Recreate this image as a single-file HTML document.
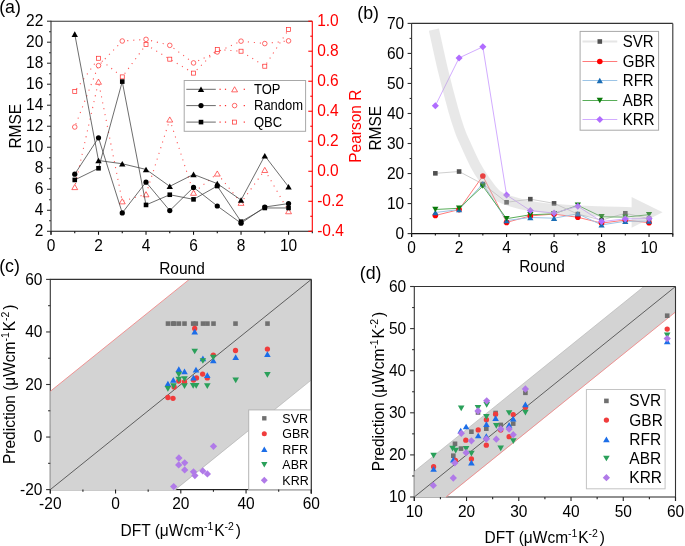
<!DOCTYPE html>
<html><head><meta charset="utf-8"><title>Figure</title>
<style>
html,body{margin:0;padding:0;background:#fff;}
body{width:685px;height:546px;overflow:hidden;}
svg{display:block;will-change:transform;font-family:"Liberation Sans", sans-serif;}
</style></head>
<body>
<svg width="685" height="546" viewBox="0 0 685 546">
<rect width="685" height="546" fill="#fff"/>
<g id="pa">
<polyline points="74.75,187.03 98.51,81.68 122.26,201.29 146.02,194.23 169.77,119.5 193.53,192.73 217.28,173.52 241.04,202.79 264.79,169.92 288.55,211.19" fill="none" stroke="#ff2a2a" stroke-width="1.1" stroke-dasharray="1.1 4.9" stroke-dashoffset="-3" stroke-opacity="0.8"/>
<polyline points="74.75,127 98.51,65.62 122.26,41.01 146.02,39.36 169.77,45.36 193.53,62.92 217.28,51.96 241.04,41.16 264.79,43.56 288.55,40.86" fill="none" stroke="#ff2a2a" stroke-width="1.1" stroke-dasharray="1.1 4.9" stroke-dashoffset="-3" stroke-opacity="0.8"/>
<polyline points="74.75,91.43 98.51,58.27 122.26,76.88 146.02,44.61 169.77,59.17 193.53,73.12 217.28,49.56 241.04,51.21 264.79,66.22 288.55,29.6" fill="none" stroke="#ff2a2a" stroke-width="1.1" stroke-dasharray="1.1 4.9" stroke-dashoffset="-3" stroke-opacity="0.8"/>
<path d="M74.75,184.46 L77.7,189.6 L71.8,189.6 Z" fill="#fff" stroke="#ff2a2a" stroke-width="0.7"/>
<path d="M98.51,79.11 L101.46,84.25 L95.56,84.25 Z" fill="#fff" stroke="#ff2a2a" stroke-width="0.7"/>
<path d="M122.26,198.72 L125.21,203.85 L119.31,203.85 Z" fill="#fff" stroke="#ff2a2a" stroke-width="0.7"/>
<path d="M146.02,191.67 L148.97,196.8 L143.07,196.8 Z" fill="#fff" stroke="#ff2a2a" stroke-width="0.7"/>
<path d="M169.77,116.93 L172.72,122.06 L166.82,122.06 Z" fill="#fff" stroke="#ff2a2a" stroke-width="0.7"/>
<path d="M193.53,190.17 L196.48,195.3 L190.58,195.3 Z" fill="#fff" stroke="#ff2a2a" stroke-width="0.7"/>
<path d="M217.28,170.96 L220.23,176.09 L214.33,176.09 Z" fill="#fff" stroke="#ff2a2a" stroke-width="0.7"/>
<path d="M241.04,200.22 L243.99,205.35 L238.09,205.35 Z" fill="#fff" stroke="#ff2a2a" stroke-width="0.7"/>
<path d="M264.79,167.35 L267.74,172.49 L261.84,172.49 Z" fill="#fff" stroke="#ff2a2a" stroke-width="0.7"/>
<path d="M288.55,208.62 L291.5,213.76 L285.6,213.76 Z" fill="#fff" stroke="#ff2a2a" stroke-width="0.7"/>
<circle cx="74.75" cy="127" r="2.3" fill="#fff" stroke="#ff2a2a" stroke-width="0.7"/>
<circle cx="98.51" cy="65.62" r="2.3" fill="#fff" stroke="#ff2a2a" stroke-width="0.7"/>
<circle cx="122.26" cy="41.01" r="2.3" fill="#fff" stroke="#ff2a2a" stroke-width="0.7"/>
<circle cx="146.02" cy="39.36" r="2.3" fill="#fff" stroke="#ff2a2a" stroke-width="0.7"/>
<circle cx="169.77" cy="45.36" r="2.3" fill="#fff" stroke="#ff2a2a" stroke-width="0.7"/>
<circle cx="193.53" cy="62.92" r="2.3" fill="#fff" stroke="#ff2a2a" stroke-width="0.7"/>
<circle cx="217.28" cy="51.96" r="2.3" fill="#fff" stroke="#ff2a2a" stroke-width="0.7"/>
<circle cx="241.04" cy="41.16" r="2.3" fill="#fff" stroke="#ff2a2a" stroke-width="0.7"/>
<circle cx="264.79" cy="43.56" r="2.3" fill="#fff" stroke="#ff2a2a" stroke-width="0.7"/>
<circle cx="288.55" cy="40.86" r="2.3" fill="#fff" stroke="#ff2a2a" stroke-width="0.7"/>
<rect x="72.75" y="89.43" width="4" height="4" fill="#fff" stroke="#ff2a2a" stroke-width="0.7"/>
<rect x="96.51" y="56.27" width="4" height="4" fill="#fff" stroke="#ff2a2a" stroke-width="0.7"/>
<rect x="120.26" y="74.88" width="4" height="4" fill="#fff" stroke="#ff2a2a" stroke-width="0.7"/>
<rect x="144.02" y="42.61" width="4" height="4" fill="#fff" stroke="#ff2a2a" stroke-width="0.7"/>
<rect x="167.77" y="57.17" width="4" height="4" fill="#fff" stroke="#ff2a2a" stroke-width="0.7"/>
<rect x="191.53" y="71.12" width="4" height="4" fill="#fff" stroke="#ff2a2a" stroke-width="0.7"/>
<rect x="215.28" y="47.56" width="4" height="4" fill="#fff" stroke="#ff2a2a" stroke-width="0.7"/>
<rect x="239.04" y="49.21" width="4" height="4" fill="#fff" stroke="#ff2a2a" stroke-width="0.7"/>
<rect x="262.79" y="64.22" width="4" height="4" fill="#fff" stroke="#ff2a2a" stroke-width="0.7"/>
<rect x="286.55" y="27.6" width="4" height="4" fill="#fff" stroke="#ff2a2a" stroke-width="0.7"/>
<polyline points="74.75,34.12 98.51,160.5 122.26,163.75 146.02,169.43 169.77,186.34 193.53,174.36 217.28,183.61 241.04,200 264.79,155.77 288.55,186.76" fill="none" stroke="#3c3c3c" stroke-width="0.75" />
<polyline points="74.75,174.15 98.51,137.81 122.26,212.92 146.02,182.14 169.77,210.61 193.53,187.39 217.28,205.98 241.04,223.21 264.79,207.03 288.55,203.57" fill="none" stroke="#3c3c3c" stroke-width="0.75" />
<polyline points="74.75,179.93 98.51,168.27 122.26,81.6 146.02,204.93 169.77,194.74 193.53,199.36 217.28,186.02 241.04,221.64 264.79,207.98 288.55,207.98" fill="none" stroke="#3c3c3c" stroke-width="0.75" />
<path d="M74.75,31.34 L77.95,36.91 L71.55,36.91 Z" fill="#000" stroke="none" stroke-width="0"/>
<path d="M98.51,157.71 L101.71,163.28 L95.31,163.28 Z" fill="#000" stroke="none" stroke-width="0"/>
<path d="M122.26,160.97 L125.46,166.54 L119.06,166.54 Z" fill="#000" stroke="none" stroke-width="0"/>
<path d="M146.02,166.64 L149.22,172.21 L142.82,172.21 Z" fill="#000" stroke="none" stroke-width="0"/>
<path d="M169.77,183.55 L172.97,189.12 L166.57,189.12 Z" fill="#000" stroke="none" stroke-width="0"/>
<path d="M193.53,171.58 L196.73,177.15 L190.33,177.15 Z" fill="#000" stroke="none" stroke-width="0"/>
<path d="M217.28,180.82 L220.48,186.39 L214.08,186.39 Z" fill="#000" stroke="none" stroke-width="0"/>
<path d="M241.04,197.21 L244.24,202.78 L237.84,202.78 Z" fill="#000" stroke="none" stroke-width="0"/>
<path d="M264.79,152.99 L267.99,158.55 L261.59,158.55 Z" fill="#000" stroke="none" stroke-width="0"/>
<path d="M288.55,183.97 L291.75,189.54 L285.35,189.54 Z" fill="#000" stroke="none" stroke-width="0"/>
<circle cx="74.75" cy="174.15" r="2.6" fill="#000" stroke="none" stroke-width="0"/>
<circle cx="98.51" cy="137.81" r="2.6" fill="#000" stroke="none" stroke-width="0"/>
<circle cx="122.26" cy="212.92" r="2.6" fill="#000" stroke="none" stroke-width="0"/>
<circle cx="146.02" cy="182.14" r="2.6" fill="#000" stroke="none" stroke-width="0"/>
<circle cx="169.77" cy="210.61" r="2.6" fill="#000" stroke="none" stroke-width="0"/>
<circle cx="193.53" cy="187.39" r="2.6" fill="#000" stroke="none" stroke-width="0"/>
<circle cx="217.28" cy="205.98" r="2.6" fill="#000" stroke="none" stroke-width="0"/>
<circle cx="241.04" cy="223.21" r="2.6" fill="#000" stroke="none" stroke-width="0"/>
<circle cx="264.79" cy="207.03" r="2.6" fill="#000" stroke="none" stroke-width="0"/>
<circle cx="288.55" cy="203.57" r="2.6" fill="#000" stroke="none" stroke-width="0"/>
<rect x="72.45" y="177.63" width="4.6" height="4.6" fill="#000" stroke="none" stroke-width="0"/>
<rect x="96.21" y="165.97" width="4.6" height="4.6" fill="#000" stroke="none" stroke-width="0"/>
<rect x="119.96" y="79.3" width="4.6" height="4.6" fill="#000" stroke="none" stroke-width="0"/>
<rect x="143.72" y="202.63" width="4.6" height="4.6" fill="#000" stroke="none" stroke-width="0"/>
<rect x="167.47" y="192.44" width="4.6" height="4.6" fill="#000" stroke="none" stroke-width="0"/>
<rect x="191.23" y="197.06" width="4.6" height="4.6" fill="#000" stroke="none" stroke-width="0"/>
<rect x="214.98" y="183.72" width="4.6" height="4.6" fill="#000" stroke="none" stroke-width="0"/>
<rect x="238.74" y="219.34" width="4.6" height="4.6" fill="#000" stroke="none" stroke-width="0"/>
<rect x="262.49" y="205.68" width="4.6" height="4.6" fill="#000" stroke="none" stroke-width="0"/>
<rect x="286.25" y="205.68" width="4.6" height="4.6" fill="#000" stroke="none" stroke-width="0"/>
<rect x="184.2" y="80.5" width="121.4" height="50.8" fill="#fff" stroke="#a8a8a8" stroke-width="1"/>
<line x1="186.3" y1="89.3" x2="215.8" y2="89.3" stroke="#444" stroke-width="0.8" />
<rect x="219.5" y="88.7" width="1.2" height="1.2" fill="#ff2a2a"/>
<rect x="224.9" y="88.7" width="1.2" height="1.2" fill="#ff2a2a"/>
<rect x="243.7" y="88.7" width="1.2" height="1.2" fill="#ff2a2a"/>
<path d="M201,86.52 L204.2,92.08 L197.8,92.08 Z" fill="#000" stroke="none" stroke-width="0"/>
<path d="M234.6,86.73 L237.55,91.87 L231.65,91.87 Z" fill="#fff" stroke="#ff2a2a" stroke-width="0.7"/>
<text transform="translate(254,93.9) scale(1.0,1.08)" font-size="13" text-anchor="start" fill="#000" >TOP</text>
<line x1="186.3" y1="105.6" x2="215.8" y2="105.6" stroke="#444" stroke-width="0.8" />
<rect x="219.5" y="105" width="1.2" height="1.2" fill="#ff2a2a"/>
<rect x="224.9" y="105" width="1.2" height="1.2" fill="#ff2a2a"/>
<rect x="243.7" y="105" width="1.2" height="1.2" fill="#ff2a2a"/>
<circle cx="201" cy="105.6" r="2.6" fill="#000" stroke="none" stroke-width="0"/>
<circle cx="234.6" cy="105.6" r="2.3" fill="#fff" stroke="#ff2a2a" stroke-width="0.7"/>
<text transform="translate(254,110.2) scale(1.0,1.08)" font-size="13" text-anchor="start" fill="#000" >Random</text>
<line x1="186.3" y1="122.1" x2="215.8" y2="122.1" stroke="#444" stroke-width="0.8" />
<rect x="219.5" y="121.5" width="1.2" height="1.2" fill="#ff2a2a"/>
<rect x="224.9" y="121.5" width="1.2" height="1.2" fill="#ff2a2a"/>
<rect x="243.7" y="121.5" width="1.2" height="1.2" fill="#ff2a2a"/>
<rect x="198.7" y="119.8" width="4.6" height="4.6" fill="#000" stroke="none" stroke-width="0"/>
<rect x="232.6" y="120.1" width="4" height="4" fill="#fff" stroke="#ff2a2a" stroke-width="0.7"/>
<text transform="translate(254,126.7) scale(1.0,1.08)" font-size="13" text-anchor="start" fill="#000" >QBC</text>
<line x1="51" y1="21.2" x2="312.3" y2="21.2" stroke="#333" stroke-width="1.1" />
<line x1="51" y1="231.3" x2="312.3" y2="231.3" stroke="#111" stroke-width="1.1" />
<line x1="51" y1="20.7" x2="51" y2="234.8" stroke="#333" stroke-width="1.1" />
<line x1="312.3" y1="21.2" x2="312.3" y2="231.3" stroke="#ff0000" stroke-width="1.1" />
<line x1="47" y1="231.3" x2="51" y2="231.3" stroke="#333" stroke-width="1.1" />
<text transform="translate(43.3,236.4) scale(1.0,1.08)" font-size="15.5" text-anchor="end" fill="#000" >2</text>
<line x1="49" y1="220.8" x2="51" y2="220.8" stroke="#333" stroke-width="1.1" />
<line x1="47" y1="210.29" x2="51" y2="210.29" stroke="#333" stroke-width="1.1" />
<text transform="translate(43.3,215.39) scale(1.0,1.08)" font-size="15.5" text-anchor="end" fill="#000" >4</text>
<line x1="49" y1="199.78" x2="51" y2="199.78" stroke="#333" stroke-width="1.1" />
<line x1="47" y1="189.28" x2="51" y2="189.28" stroke="#333" stroke-width="1.1" />
<text transform="translate(43.3,194.38) scale(1.0,1.08)" font-size="15.5" text-anchor="end" fill="#000" >6</text>
<line x1="49" y1="178.78" x2="51" y2="178.78" stroke="#333" stroke-width="1.1" />
<line x1="47" y1="168.27" x2="51" y2="168.27" stroke="#333" stroke-width="1.1" />
<text transform="translate(43.3,173.37) scale(1.0,1.08)" font-size="15.5" text-anchor="end" fill="#000" >8</text>
<line x1="49" y1="157.76" x2="51" y2="157.76" stroke="#333" stroke-width="1.1" />
<line x1="47" y1="147.26" x2="51" y2="147.26" stroke="#333" stroke-width="1.1" />
<text transform="translate(43.3,152.36) scale(1.0,1.08)" font-size="15.5" text-anchor="end" fill="#000" >10</text>
<line x1="49" y1="136.75" x2="51" y2="136.75" stroke="#333" stroke-width="1.1" />
<line x1="47" y1="126.25" x2="51" y2="126.25" stroke="#333" stroke-width="1.1" />
<text transform="translate(43.3,131.35) scale(1.0,1.08)" font-size="15.5" text-anchor="end" fill="#000" >12</text>
<line x1="49" y1="115.74" x2="51" y2="115.74" stroke="#333" stroke-width="1.1" />
<line x1="47" y1="105.24" x2="51" y2="105.24" stroke="#333" stroke-width="1.1" />
<text transform="translate(43.3,110.34) scale(1.0,1.08)" font-size="15.5" text-anchor="end" fill="#000" >14</text>
<line x1="49" y1="94.74" x2="51" y2="94.74" stroke="#333" stroke-width="1.1" />
<line x1="47" y1="84.23" x2="51" y2="84.23" stroke="#333" stroke-width="1.1" />
<text transform="translate(43.3,89.33) scale(1.0,1.08)" font-size="15.5" text-anchor="end" fill="#000" >16</text>
<line x1="49" y1="73.72" x2="51" y2="73.72" stroke="#333" stroke-width="1.1" />
<line x1="47" y1="63.22" x2="51" y2="63.22" stroke="#333" stroke-width="1.1" />
<text transform="translate(43.3,68.32) scale(1.0,1.08)" font-size="15.5" text-anchor="end" fill="#000" >18</text>
<line x1="49" y1="52.72" x2="51" y2="52.72" stroke="#333" stroke-width="1.1" />
<line x1="47" y1="42.21" x2="51" y2="42.21" stroke="#333" stroke-width="1.1" />
<text transform="translate(43.3,47.31) scale(1.0,1.08)" font-size="15.5" text-anchor="end" fill="#000" >20</text>
<line x1="49" y1="31.7" x2="51" y2="31.7" stroke="#333" stroke-width="1.1" />
<line x1="47" y1="21.2" x2="51" y2="21.2" stroke="#333" stroke-width="1.1" />
<text transform="translate(43.3,26.3) scale(1.0,1.08)" font-size="15.5" text-anchor="end" fill="#000" >22</text>
<line x1="51" y1="231.3" x2="51" y2="234.8" stroke="#111" stroke-width="1.1" />
<text transform="translate(51,250.8) scale(1.0,1.08)" font-size="15.5" text-anchor="middle" fill="#000" >0</text>
<line x1="74.75" y1="231.3" x2="74.75" y2="233.3" stroke="#111" stroke-width="1.1" />
<line x1="98.51" y1="231.3" x2="98.51" y2="234.8" stroke="#111" stroke-width="1.1" />
<text transform="translate(98.51,250.8) scale(1.0,1.08)" font-size="15.5" text-anchor="middle" fill="#000" >2</text>
<line x1="122.26" y1="231.3" x2="122.26" y2="233.3" stroke="#111" stroke-width="1.1" />
<line x1="146.02" y1="231.3" x2="146.02" y2="234.8" stroke="#111" stroke-width="1.1" />
<text transform="translate(146.02,250.8) scale(1.0,1.08)" font-size="15.5" text-anchor="middle" fill="#000" >4</text>
<line x1="169.77" y1="231.3" x2="169.77" y2="233.3" stroke="#111" stroke-width="1.1" />
<line x1="193.53" y1="231.3" x2="193.53" y2="234.8" stroke="#111" stroke-width="1.1" />
<text transform="translate(193.53,250.8) scale(1.0,1.08)" font-size="15.5" text-anchor="middle" fill="#000" >6</text>
<line x1="217.28" y1="231.3" x2="217.28" y2="233.3" stroke="#111" stroke-width="1.1" />
<line x1="241.04" y1="231.3" x2="241.04" y2="234.8" stroke="#111" stroke-width="1.1" />
<text transform="translate(241.04,250.8) scale(1.0,1.08)" font-size="15.5" text-anchor="middle" fill="#000" >8</text>
<line x1="264.79" y1="231.3" x2="264.79" y2="233.3" stroke="#111" stroke-width="1.1" />
<line x1="288.55" y1="231.3" x2="288.55" y2="234.8" stroke="#111" stroke-width="1.1" />
<text transform="translate(288.55,250.8) scale(1.0,1.08)" font-size="15.5" text-anchor="middle" fill="#000" >10</text>
<line x1="312.3" y1="231.3" x2="312.3" y2="233.3" stroke="#111" stroke-width="1.1" />
<line x1="308.3" y1="231.3" x2="312.3" y2="231.3" stroke="#ff0000" stroke-width="1.1" />
<text transform="translate(317.2,236.4) scale(1.0,1.08)" font-size="15.5" text-anchor="start" fill="#ff0000" >-0.4</text>
<line x1="310.3" y1="216.29" x2="312.3" y2="216.29" stroke="#ff0000" stroke-width="1.1" />
<line x1="308.3" y1="201.29" x2="312.3" y2="201.29" stroke="#ff0000" stroke-width="1.1" />
<text transform="translate(317.2,206.39) scale(1.0,1.08)" font-size="15.5" text-anchor="start" fill="#ff0000" >-0.2</text>
<line x1="310.3" y1="186.28" x2="312.3" y2="186.28" stroke="#ff0000" stroke-width="1.1" />
<line x1="308.3" y1="171.27" x2="312.3" y2="171.27" stroke="#ff0000" stroke-width="1.1" />
<text transform="translate(317.2,176.37) scale(1.0,1.08)" font-size="15.5" text-anchor="start" fill="#ff0000" >0.0</text>
<line x1="310.3" y1="156.26" x2="312.3" y2="156.26" stroke="#ff0000" stroke-width="1.1" />
<line x1="308.3" y1="141.26" x2="312.3" y2="141.26" stroke="#ff0000" stroke-width="1.1" />
<text transform="translate(317.2,146.36) scale(1.0,1.08)" font-size="15.5" text-anchor="start" fill="#ff0000" >0.2</text>
<line x1="310.3" y1="126.25" x2="312.3" y2="126.25" stroke="#ff0000" stroke-width="1.1" />
<line x1="308.3" y1="111.24" x2="312.3" y2="111.24" stroke="#ff0000" stroke-width="1.1" />
<text transform="translate(317.2,116.34) scale(1.0,1.08)" font-size="15.5" text-anchor="start" fill="#ff0000" >0.4</text>
<line x1="310.3" y1="96.24" x2="312.3" y2="96.24" stroke="#ff0000" stroke-width="1.1" />
<line x1="308.3" y1="81.23" x2="312.3" y2="81.23" stroke="#ff0000" stroke-width="1.1" />
<text transform="translate(317.2,86.33) scale(1.0,1.08)" font-size="15.5" text-anchor="start" fill="#ff0000" >0.6</text>
<line x1="310.3" y1="66.22" x2="312.3" y2="66.22" stroke="#ff0000" stroke-width="1.1" />
<line x1="308.3" y1="51.21" x2="312.3" y2="51.21" stroke="#ff0000" stroke-width="1.1" />
<text transform="translate(317.2,56.31) scale(1.0,1.08)" font-size="15.5" text-anchor="start" fill="#ff0000" >0.8</text>
<line x1="310.3" y1="36.21" x2="312.3" y2="36.21" stroke="#ff0000" stroke-width="1.1" />
<line x1="308.3" y1="21.2" x2="312.3" y2="21.2" stroke="#ff0000" stroke-width="1.1" />
<text transform="translate(317.2,26.3) scale(1.0,1.08)" font-size="15.5" text-anchor="start" fill="#ff0000" >1.0</text>
<text transform="translate(21.1,126.2) rotate(-90) scale(1.0,1.04)" font-size="15.5" text-anchor="middle" fill="#000">RMSE</text>
<text transform="translate(361.4,126.2) rotate(-90) scale(1.0,1.04)" font-size="15.5" text-anchor="middle" fill="#ff0000">Pearson R</text>
<text transform="translate(182,273.6) scale(1.0,1.08)" font-size="15.5" text-anchor="middle" fill="#000" >Round</text>
<text transform="translate(-0.8,13.4) scale(1.0,1.0)" font-size="17.8" text-anchor="start" fill="#000" >(a)</text>
</g>
<g id="pb">
<polyline points="435.35,173.33 459.09,171.53 482.84,184.05 506.58,202.28 530.33,199.16 554.07,203.36 577.82,214.08 601.56,220.09 625.31,213.27 649.05,218.59" fill="none" stroke="#cfcfcf" stroke-width="1"/>
<polyline points="435.35,215.49 459.09,209.58 482.84,175.95 506.58,222.4 530.33,215.88 554.07,214.08 577.82,217.29 601.56,223.09 625.31,220.09 649.05,222.7" fill="none" stroke="#ff7a7a" stroke-width="1"/>
<polyline points="435.35,212.49 459.09,209.58 482.84,183.75 506.58,220.6 530.33,217.47 554.07,218.2 577.82,213.78 601.56,224.89 625.31,221.29 649.05,221.08" fill="none" stroke="#9cc4e6" stroke-width="1"/>
<polyline points="435.35,209.49 459.09,208.29 482.84,186.15 506.58,218.68 530.33,214.77 554.07,213.78 577.82,205.28 601.56,216.78 625.31,217.08 649.05,214.68" fill="none" stroke="#58ad58" stroke-width="1"/>
<polyline points="435.35,105.68 459.09,57.93 482.84,46.82 506.58,195.07 530.33,210.57 554.07,213.09 577.82,206.27 601.56,221.59 625.31,218.89 649.05,218.59" fill="none" stroke="#d2acff" stroke-width="1"/>
<rect x="433.05" y="171.03" width="4.6" height="4.6" fill="#515151" stroke="none" stroke-width="0"/>
<rect x="456.79" y="169.23" width="4.6" height="4.6" fill="#515151" stroke="none" stroke-width="0"/>
<rect x="480.54" y="181.75" width="4.6" height="4.6" fill="#515151" stroke="none" stroke-width="0"/>
<rect x="504.28" y="199.98" width="4.6" height="4.6" fill="#515151" stroke="none" stroke-width="0"/>
<rect x="528.03" y="196.86" width="4.6" height="4.6" fill="#515151" stroke="none" stroke-width="0"/>
<rect x="551.77" y="201.06" width="4.6" height="4.6" fill="#515151" stroke="none" stroke-width="0"/>
<rect x="575.52" y="211.78" width="4.6" height="4.6" fill="#515151" stroke="none" stroke-width="0"/>
<rect x="599.26" y="217.79" width="4.6" height="4.6" fill="#515151" stroke="none" stroke-width="0"/>
<rect x="623.01" y="210.97" width="4.6" height="4.6" fill="#515151" stroke="none" stroke-width="0"/>
<rect x="646.75" y="216.29" width="4.6" height="4.6" fill="#515151" stroke="none" stroke-width="0"/>
<circle cx="435.35" cy="215.49" r="2.8" fill="#ff0000" stroke="none" stroke-width="0"/>
<circle cx="459.09" cy="209.58" r="2.8" fill="#ff0000" stroke="none" stroke-width="0"/>
<circle cx="482.84" cy="175.95" r="2.8" fill="#ff0000" stroke="none" stroke-width="0"/>
<circle cx="506.58" cy="222.4" r="2.8" fill="#ff0000" stroke="none" stroke-width="0"/>
<circle cx="530.33" cy="215.88" r="2.8" fill="#ff0000" stroke="none" stroke-width="0"/>
<circle cx="554.07" cy="214.08" r="2.8" fill="#ff0000" stroke="none" stroke-width="0"/>
<circle cx="577.82" cy="217.29" r="2.8" fill="#ff0000" stroke="none" stroke-width="0"/>
<circle cx="601.56" cy="223.09" r="2.8" fill="#ff0000" stroke="none" stroke-width="0"/>
<circle cx="625.31" cy="220.09" r="2.8" fill="#ff0000" stroke="none" stroke-width="0"/>
<circle cx="649.05" cy="222.7" r="2.8" fill="#ff0000" stroke="none" stroke-width="0"/>
<path d="M435.35,209.79 L438.45,215.19 L432.25,215.19 Z" fill="#1a6db5" stroke="none" stroke-width="0"/>
<path d="M459.09,206.88 L462.19,212.27 L455.99,212.27 Z" fill="#1a6db5" stroke="none" stroke-width="0"/>
<path d="M482.84,181.06 L485.94,186.45 L479.74,186.45 Z" fill="#1a6db5" stroke="none" stroke-width="0"/>
<path d="M506.58,217.9 L509.68,223.29 L503.48,223.29 Z" fill="#1a6db5" stroke="none" stroke-width="0"/>
<path d="M530.33,214.78 L533.43,220.17 L527.23,220.17 Z" fill="#1a6db5" stroke="none" stroke-width="0"/>
<path d="M554.07,215.5 L557.17,220.89 L550.97,220.89 Z" fill="#1a6db5" stroke="none" stroke-width="0"/>
<path d="M577.82,211.08 L580.92,216.48 L574.72,216.48 Z" fill="#1a6db5" stroke="none" stroke-width="0"/>
<path d="M601.56,222.19 L604.66,227.59 L598.46,227.59 Z" fill="#1a6db5" stroke="none" stroke-width="0"/>
<path d="M625.31,218.59 L628.41,223.99 L622.21,223.99 Z" fill="#1a6db5" stroke="none" stroke-width="0"/>
<path d="M649.05,218.38 L652.15,223.78 L645.95,223.78 Z" fill="#1a6db5" stroke="none" stroke-width="0"/>
<path d="M435.35,212.18 L438.45,206.79 L432.25,206.79 Z" fill="#0b7a0b" stroke="none" stroke-width="0"/>
<path d="M459.09,210.98 L462.19,205.59 L455.99,205.59 Z" fill="#0b7a0b" stroke="none" stroke-width="0"/>
<path d="M482.84,188.85 L485.94,183.46 L479.74,183.46 Z" fill="#0b7a0b" stroke="none" stroke-width="0"/>
<path d="M506.58,221.37 L509.68,215.98 L503.48,215.98 Z" fill="#0b7a0b" stroke="none" stroke-width="0"/>
<path d="M530.33,217.47 L533.43,212.08 L527.23,212.08 Z" fill="#0b7a0b" stroke="none" stroke-width="0"/>
<path d="M554.07,216.48 L557.17,211.08 L550.97,211.08 Z" fill="#0b7a0b" stroke="none" stroke-width="0"/>
<path d="M577.82,207.98 L580.92,202.59 L574.72,202.59 Z" fill="#0b7a0b" stroke="none" stroke-width="0"/>
<path d="M601.56,219.48 L604.66,214.09 L598.46,214.09 Z" fill="#0b7a0b" stroke="none" stroke-width="0"/>
<path d="M625.31,219.78 L628.41,214.39 L622.21,214.39 Z" fill="#0b7a0b" stroke="none" stroke-width="0"/>
<path d="M649.05,217.38 L652.15,211.98 L645.95,211.98 Z" fill="#0b7a0b" stroke="none" stroke-width="0"/>
<path d="M435.35,102.16 L438.87,105.68 L435.35,109.2 L431.83,105.68 Z" fill="#b06cff" stroke="none" stroke-width="0"/>
<path d="M459.09,54.41 L462.61,57.93 L459.09,61.45 L455.57,57.93 Z" fill="#b06cff" stroke="none" stroke-width="0"/>
<path d="M482.84,43.3 L486.36,46.82 L482.84,50.34 L479.32,46.82 Z" fill="#b06cff" stroke="none" stroke-width="0"/>
<path d="M506.58,191.55 L510.1,195.07 L506.58,198.59 L503.06,195.07 Z" fill="#b06cff" stroke="none" stroke-width="0"/>
<path d="M530.33,207.05 L533.85,210.57 L530.33,214.09 L526.81,210.57 Z" fill="#b06cff" stroke="none" stroke-width="0"/>
<path d="M554.07,209.57 L557.59,213.09 L554.07,216.61 L550.55,213.09 Z" fill="#b06cff" stroke="none" stroke-width="0"/>
<path d="M577.82,202.75 L581.34,206.27 L577.82,209.79 L574.3,206.27 Z" fill="#b06cff" stroke="none" stroke-width="0"/>
<path d="M601.56,218.07 L605.08,221.59 L601.56,225.11 L598.04,221.59 Z" fill="#b06cff" stroke="none" stroke-width="0"/>
<path d="M625.31,215.37 L628.83,218.89 L625.31,222.41 L621.79,218.89 Z" fill="#b06cff" stroke="none" stroke-width="0"/>
<path d="M649.05,215.07 L652.57,218.59 L649.05,222.11 L645.53,218.59 Z" fill="#b06cff" stroke="none" stroke-width="0"/>
<g opacity="0.34"><path d="M433.9,29.6 C435.4,36.33 439.67,56.6 442.9,70 C446.13,83.4 450.52,100 453.3,110 C456.08,120 457.87,125 459.6,130 C461.33,135 461.08,134.17 463.7,140 C466.32,145.83 471.8,158.33 475.3,165 C478.8,171.67 481.12,175 484.7,180 C488.28,185 492.58,191.5 496.8,195 C501.02,198.5 504.47,199.17 510,201 C515.53,202.83 521.67,204.58 530,206 C538.33,207.42 548.33,208.58 560,209.5 C571.67,210.42 588,211.03 600,211.5 C612,211.97 626.67,212.17 632,212.3" fill="none" stroke="#bbbbbb" stroke-width="10.3"/><path d="M631.6,197 L662.6,212.3 L631.6,227.8 Z" fill="#bbbbbb"/></g>
<rect x="580.1" y="31.4" width="78.5" height="98.8" fill="#fff" stroke="#a8a8a8" stroke-width="1"/>
<line x1="582.5" y1="41.5" x2="617.3" y2="41.5" stroke="#e6e6e6" stroke-width="2" />
<rect x="597.5" y="39.2" width="4.6" height="4.6" fill="#515151" stroke="none" stroke-width="0"/>
<text transform="translate(622.8,46.9) scale(1.0,1.08)" font-size="15" text-anchor="start" fill="#000" >SVR</text>
<line x1="582.5" y1="61.5" x2="617.3" y2="61.5" stroke="#ff7a7a" stroke-width="1" />
<circle cx="599.8" cy="61.5" r="2.8" fill="#ff0000" stroke="none" stroke-width="0"/>
<text transform="translate(622.8,66.9) scale(1.0,1.08)" font-size="15" text-anchor="start" fill="#000" >GBR</text>
<line x1="582.5" y1="80.5" x2="617.3" y2="80.5" stroke="#9cc4e6" stroke-width="1" />
<path d="M599.8,77.8 L602.9,83.2 L596.7,83.2 Z" fill="#1a6db5" stroke="none" stroke-width="0"/>
<text transform="translate(622.8,85.9) scale(1.0,1.08)" font-size="15" text-anchor="start" fill="#000" >RFR</text>
<line x1="582.5" y1="100.5" x2="617.3" y2="100.5" stroke="#58ad58" stroke-width="1" />
<path d="M599.8,103.2 L602.9,97.8 L596.7,97.8 Z" fill="#0b7a0b" stroke="none" stroke-width="0"/>
<text transform="translate(622.8,105.9) scale(1.0,1.08)" font-size="15" text-anchor="start" fill="#000" >ABR</text>
<line x1="582.5" y1="119.5" x2="617.3" y2="119.5" stroke="#d2acff" stroke-width="1" />
<path d="M599.8,115.98 L603.32,119.5 L599.8,123.02 L596.28,119.5 Z" fill="#b06cff" stroke="none" stroke-width="0"/>
<text transform="translate(622.8,124.9) scale(1.0,1.08)" font-size="15" text-anchor="start" fill="#000" >KRR</text>
<line x1="411.6" y1="23.4" x2="672.8" y2="23.4" stroke="#333" stroke-width="1.1" />
<line x1="411.6" y1="233.6" x2="672.8" y2="233.6" stroke="#111" stroke-width="1.1" />
<line x1="411.6" y1="22.9" x2="411.6" y2="237.1" stroke="#333" stroke-width="1.1" />
<line x1="672.8" y1="23.4" x2="672.8" y2="237.1" stroke="#333" stroke-width="1.1" />
<line x1="407.6" y1="233.6" x2="411.6" y2="233.6" stroke="#333" stroke-width="1.1" />
<text transform="translate(404.2,238.7) scale(1.0,1.08)" font-size="15.5" text-anchor="end" fill="#000" >0</text>
<line x1="409.6" y1="218.59" x2="411.6" y2="218.59" stroke="#333" stroke-width="1.1" />
<line x1="407.6" y1="203.57" x2="411.6" y2="203.57" stroke="#333" stroke-width="1.1" />
<text transform="translate(404.2,208.67) scale(1.0,1.08)" font-size="15.5" text-anchor="end" fill="#000" >10</text>
<line x1="409.6" y1="188.56" x2="411.6" y2="188.56" stroke="#333" stroke-width="1.1" />
<line x1="407.6" y1="173.54" x2="411.6" y2="173.54" stroke="#333" stroke-width="1.1" />
<text transform="translate(404.2,178.64) scale(1.0,1.08)" font-size="15.5" text-anchor="end" fill="#000" >20</text>
<line x1="409.6" y1="158.53" x2="411.6" y2="158.53" stroke="#333" stroke-width="1.1" />
<line x1="407.6" y1="143.51" x2="411.6" y2="143.51" stroke="#333" stroke-width="1.1" />
<text transform="translate(404.2,148.61) scale(1.0,1.08)" font-size="15.5" text-anchor="end" fill="#000" >30</text>
<line x1="409.6" y1="128.5" x2="411.6" y2="128.5" stroke="#333" stroke-width="1.1" />
<line x1="407.6" y1="113.49" x2="411.6" y2="113.49" stroke="#333" stroke-width="1.1" />
<text transform="translate(404.2,118.59) scale(1.0,1.08)" font-size="15.5" text-anchor="end" fill="#000" >40</text>
<line x1="409.6" y1="98.47" x2="411.6" y2="98.47" stroke="#333" stroke-width="1.1" />
<line x1="407.6" y1="83.46" x2="411.6" y2="83.46" stroke="#333" stroke-width="1.1" />
<text transform="translate(404.2,88.56) scale(1.0,1.08)" font-size="15.5" text-anchor="end" fill="#000" >50</text>
<line x1="409.6" y1="68.44" x2="411.6" y2="68.44" stroke="#333" stroke-width="1.1" />
<line x1="407.6" y1="53.43" x2="411.6" y2="53.43" stroke="#333" stroke-width="1.1" />
<text transform="translate(404.2,58.53) scale(1.0,1.08)" font-size="15.5" text-anchor="end" fill="#000" >60</text>
<line x1="409.6" y1="38.41" x2="411.6" y2="38.41" stroke="#333" stroke-width="1.1" />
<line x1="407.6" y1="23.4" x2="411.6" y2="23.4" stroke="#333" stroke-width="1.1" />
<text transform="translate(404.2,28.5) scale(1.0,1.08)" font-size="15.5" text-anchor="end" fill="#000" >70</text>
<line x1="411.6" y1="233.6" x2="411.6" y2="237.1" stroke="#111" stroke-width="1.1" />
<text transform="translate(411.6,252.7) scale(1.0,1.08)" font-size="15.5" text-anchor="middle" fill="#000" >0</text>
<line x1="435.35" y1="233.6" x2="435.35" y2="235.6" stroke="#111" stroke-width="1.1" />
<line x1="459.09" y1="233.6" x2="459.09" y2="237.1" stroke="#111" stroke-width="1.1" />
<text transform="translate(459.09,252.7) scale(1.0,1.08)" font-size="15.5" text-anchor="middle" fill="#000" >2</text>
<line x1="482.84" y1="233.6" x2="482.84" y2="235.6" stroke="#111" stroke-width="1.1" />
<line x1="506.58" y1="233.6" x2="506.58" y2="237.1" stroke="#111" stroke-width="1.1" />
<text transform="translate(506.58,252.7) scale(1.0,1.08)" font-size="15.5" text-anchor="middle" fill="#000" >4</text>
<line x1="530.33" y1="233.6" x2="530.33" y2="235.6" stroke="#111" stroke-width="1.1" />
<line x1="554.07" y1="233.6" x2="554.07" y2="237.1" stroke="#111" stroke-width="1.1" />
<text transform="translate(554.07,252.7) scale(1.0,1.08)" font-size="15.5" text-anchor="middle" fill="#000" >6</text>
<line x1="577.82" y1="233.6" x2="577.82" y2="235.6" stroke="#111" stroke-width="1.1" />
<line x1="601.56" y1="233.6" x2="601.56" y2="237.1" stroke="#111" stroke-width="1.1" />
<text transform="translate(601.56,252.7) scale(1.0,1.08)" font-size="15.5" text-anchor="middle" fill="#000" >8</text>
<line x1="625.31" y1="233.6" x2="625.31" y2="235.6" stroke="#111" stroke-width="1.1" />
<line x1="649.05" y1="233.6" x2="649.05" y2="237.1" stroke="#111" stroke-width="1.1" />
<text transform="translate(649.05,252.7) scale(1.0,1.08)" font-size="15.5" text-anchor="middle" fill="#000" >10</text>
<line x1="672.8" y1="233.6" x2="672.8" y2="235.6" stroke="#111" stroke-width="1.1" />
<text transform="translate(381.2,128.2) rotate(-90) scale(1.0,1.04)" font-size="15.5" text-anchor="middle" fill="#000">RMSE</text>
<text transform="translate(542,271.6) scale(1.0,1.08)" font-size="15.5" text-anchor="middle" fill="#000" >Round</text>
<text transform="translate(357.3,19.4) scale(1.0,1.0)" font-size="17.8" text-anchor="start" fill="#000" >(b)</text>
</g>
<g id="pc">
<line x1="50.3" y1="489.6" x2="311.3" y2="489.6" stroke="#222" stroke-width="1.1" />
<line x1="50.3" y1="278.9" x2="50.3" y2="493.6" stroke="#333" stroke-width="1.1" />
<polygon points="50.3,490.2 175.25,490.2 311.3,380.03 311.3,279.4 189.28,279.4 50.3,391.33" fill="#d3d3d3"/>
<line x1="50.3" y1="391.33" x2="189.28" y2="279.4" stroke="#f08a8a" stroke-width="0.9" />
<line x1="175.25" y1="489.6" x2="311.3" y2="380.03" stroke="#b0b0b0" stroke-width="0.6" />
<line x1="50.3" y1="489.6" x2="311.3" y2="279.4" stroke="#404040" stroke-width="0.8" />
<rect x="165.7" y="321.3" width="4.6" height="4.6" fill="#707070" stroke="none" stroke-width="0"/>
<rect x="170.7" y="321.3" width="4.6" height="4.6" fill="#707070" stroke="none" stroke-width="0"/>
<rect x="171.9" y="321.3" width="4.6" height="4.6" fill="#707070" stroke="none" stroke-width="0"/>
<rect x="176.6" y="321.3" width="4.6" height="4.6" fill="#707070" stroke="none" stroke-width="0"/>
<rect x="182.2" y="321.3" width="4.6" height="4.6" fill="#707070" stroke="none" stroke-width="0"/>
<rect x="190.9" y="321.3" width="4.6" height="4.6" fill="#707070" stroke="none" stroke-width="0"/>
<rect x="193.5" y="321.3" width="4.6" height="4.6" fill="#707070" stroke="none" stroke-width="0"/>
<rect x="200.7" y="321.3" width="4.6" height="4.6" fill="#707070" stroke="none" stroke-width="0"/>
<rect x="205.1" y="321.3" width="4.6" height="4.6" fill="#707070" stroke="none" stroke-width="0"/>
<rect x="211.2" y="321.3" width="4.6" height="4.6" fill="#707070" stroke="none" stroke-width="0"/>
<rect x="233.2" y="321.3" width="4.6" height="4.6" fill="#707070" stroke="none" stroke-width="0"/>
<rect x="265.2" y="321.3" width="4.6" height="4.6" fill="#707070" stroke="none" stroke-width="0"/>
<circle cx="167.9" cy="397.5" r="2.65" fill="#f03c3c" stroke="none" stroke-width="0"/>
<circle cx="173" cy="398.3" r="2.65" fill="#f03c3c" stroke="none" stroke-width="0"/>
<circle cx="174.1" cy="387" r="2.65" fill="#f03c3c" stroke="none" stroke-width="0"/>
<circle cx="178.8" cy="381" r="2.65" fill="#f03c3c" stroke="none" stroke-width="0"/>
<circle cx="184.5" cy="382" r="2.65" fill="#f03c3c" stroke="none" stroke-width="0"/>
<circle cx="193.5" cy="380.1" r="2.65" fill="#f03c3c" stroke="none" stroke-width="0"/>
<circle cx="196.5" cy="377.9" r="2.65" fill="#f03c3c" stroke="none" stroke-width="0"/>
<circle cx="202.6" cy="374.1" r="2.65" fill="#f03c3c" stroke="none" stroke-width="0"/>
<circle cx="207.3" cy="377.9" r="2.65" fill="#f03c3c" stroke="none" stroke-width="0"/>
<circle cx="213.3" cy="355.1" r="2.65" fill="#f03c3c" stroke="none" stroke-width="0"/>
<circle cx="194.7" cy="328.5" r="2.65" fill="#f03c3c" stroke="none" stroke-width="0"/>
<circle cx="235.5" cy="350.5" r="2.65" fill="#f03c3c" stroke="none" stroke-width="0"/>
<circle cx="267.4" cy="349.1" r="2.65" fill="#f03c3c" stroke="none" stroke-width="0"/>
<path d="M167.9,380.73 L171.2,386.47 L164.6,386.47 Z" fill="#1c6ee8" stroke="none" stroke-width="0"/>
<path d="M173.3,377.03 L176.6,382.77 L170,382.77 Z" fill="#1c6ee8" stroke="none" stroke-width="0"/>
<path d="M178.8,366.23 L182.1,371.97 L175.5,371.97 Z" fill="#1c6ee8" stroke="none" stroke-width="0"/>
<path d="M184.5,368.43 L187.8,374.17 L181.2,374.17 Z" fill="#1c6ee8" stroke="none" stroke-width="0"/>
<path d="M193.5,374.83 L196.8,380.57 L190.2,380.57 Z" fill="#1c6ee8" stroke="none" stroke-width="0"/>
<path d="M196,366.83 L199.3,372.57 L192.7,372.57 Z" fill="#1c6ee8" stroke="none" stroke-width="0"/>
<path d="M202.9,355.53 L206.2,361.27 L199.6,361.27 Z" fill="#1c6ee8" stroke="none" stroke-width="0"/>
<path d="M207.3,372.33 L210.6,378.07 L204,378.07 Z" fill="#1c6ee8" stroke="none" stroke-width="0"/>
<path d="M213.3,357.43 L216.6,363.17 L210,363.17 Z" fill="#1c6ee8" stroke="none" stroke-width="0"/>
<path d="M194.7,328.83 L198,334.57 L191.4,334.57 Z" fill="#1c6ee8" stroke="none" stroke-width="0"/>
<path d="M235.7,354.33 L239,360.07 L232.4,360.07 Z" fill="#1c6ee8" stroke="none" stroke-width="0"/>
<path d="M267.4,351.33 L270.7,357.07 L264.1,357.07 Z" fill="#1c6ee8" stroke="none" stroke-width="0"/>
<path d="M167.9,391.77 L171.2,386.03 L164.6,386.03 Z" fill="#2aa05a" stroke="none" stroke-width="0"/>
<path d="M173.5,389.07 L176.8,383.33 L170.2,383.33 Z" fill="#2aa05a" stroke="none" stroke-width="0"/>
<path d="M178.8,377.47 L182.1,371.73 L175.5,371.73 Z" fill="#2aa05a" stroke="none" stroke-width="0"/>
<path d="M178.8,382.47 L182.1,376.73 L175.5,376.73 Z" fill="#2aa05a" stroke="none" stroke-width="0"/>
<path d="M184.5,381.87 L187.8,376.13 L181.2,376.13 Z" fill="#2aa05a" stroke="none" stroke-width="0"/>
<path d="M184.5,389.07 L187.8,383.33 L181.2,383.33 Z" fill="#2aa05a" stroke="none" stroke-width="0"/>
<path d="M193.2,388.77 L196.5,383.03 L189.9,383.03 Z" fill="#2aa05a" stroke="none" stroke-width="0"/>
<path d="M196.2,388.77 L199.5,383.03 L192.9,383.03 Z" fill="#2aa05a" stroke="none" stroke-width="0"/>
<path d="M207.3,389.07 L210.6,383.33 L204,383.33 Z" fill="#2aa05a" stroke="none" stroke-width="0"/>
<path d="M202.9,363.87 L206.2,358.13 L199.6,358.13 Z" fill="#2aa05a" stroke="none" stroke-width="0"/>
<path d="M213.3,360.57 L216.6,354.83 L210,354.83 Z" fill="#2aa05a" stroke="none" stroke-width="0"/>
<path d="M194.7,354.37 L198,348.63 L191.4,348.63 Z" fill="#2aa05a" stroke="none" stroke-width="0"/>
<path d="M235.7,383.17 L239,377.43 L232.4,377.43 Z" fill="#2aa05a" stroke="none" stroke-width="0"/>
<path d="M267.4,377.67 L270.7,371.93 L264.1,371.93 Z" fill="#2aa05a" stroke="none" stroke-width="0"/>
<path d="M213.5,442.67 L217.13,446.3 L213.5,449.93 L209.87,446.3 Z" fill="#b07ae8" stroke="none" stroke-width="0"/>
<path d="M178.9,454.37 L182.53,458 L178.9,461.63 L175.27,458 Z" fill="#b07ae8" stroke="none" stroke-width="0"/>
<path d="M184.7,459.17 L188.33,462.8 L184.7,466.43 L181.07,462.8 Z" fill="#b07ae8" stroke="none" stroke-width="0"/>
<path d="M178.7,461.27 L182.33,464.9 L178.7,468.53 L175.07,464.9 Z" fill="#b07ae8" stroke="none" stroke-width="0"/>
<path d="M184.7,466.27 L188.33,469.9 L184.7,473.53 L181.07,469.9 Z" fill="#b07ae8" stroke="none" stroke-width="0"/>
<path d="M193.5,468.17 L197.13,471.8 L193.5,475.43 L189.87,471.8 Z" fill="#b07ae8" stroke="none" stroke-width="0"/>
<path d="M194.9,471.97 L198.53,475.6 L194.9,479.23 L191.27,475.6 Z" fill="#b07ae8" stroke="none" stroke-width="0"/>
<path d="M202.8,467.27 L206.43,470.9 L202.8,474.53 L199.17,470.9 Z" fill="#b07ae8" stroke="none" stroke-width="0"/>
<path d="M207.4,470.27 L211.03,473.9 L207.4,477.53 L203.77,473.9 Z" fill="#b07ae8" stroke="none" stroke-width="0"/>
<path d="M173.7,482.97 L177.33,486.6 L173.7,490.23 L170.07,486.6 Z" fill="#b07ae8" stroke="none" stroke-width="0"/>
<line x1="49.8" y1="279.4" x2="311.3" y2="279.4" stroke="#333" stroke-width="1.1" />
<line x1="311.3" y1="279.4" x2="311.3" y2="493.6" stroke="#333" stroke-width="1.1" />
<rect x="248.7" y="409.9" width="62.6" height="79.7" fill="#fff" stroke="#b4b4b4" stroke-width="1"/>
<rect x="262.12" y="416.12" width="4.37" height="4.37" fill="#707070" stroke="none" stroke-width="0"/>
<text transform="translate(282.3,422.6) scale(1.0,1.08)" font-size="12.5" text-anchor="start" fill="#000" >SVR</text>
<circle cx="264.3" cy="433.8" r="2.52" fill="#f03c3c" stroke="none" stroke-width="0"/>
<text transform="translate(282.3,438.1) scale(1.0,1.08)" font-size="12.5" text-anchor="start" fill="#000" >GBR</text>
<path d="M264.3,446.57 L267.44,452.03 L261.17,452.03 Z" fill="#1c6ee8" stroke="none" stroke-width="0"/>
<text transform="translate(282.3,453.6) scale(1.0,1.08)" font-size="12.5" text-anchor="start" fill="#000" >RFR</text>
<path d="M264.3,467.53 L267.44,462.07 L261.17,462.07 Z" fill="#2aa05a" stroke="none" stroke-width="0"/>
<text transform="translate(282.3,469.1) scale(1.0,1.08)" font-size="12.5" text-anchor="start" fill="#000" >ABR</text>
<path d="M264.3,476.85 L267.75,480.3 L264.3,483.75 L260.85,480.3 Z" fill="#b07ae8" stroke="none" stroke-width="0"/>
<text transform="translate(282.3,484.6) scale(1.0,1.08)" font-size="12.5" text-anchor="start" fill="#000" >KRR</text>
<line x1="311.3" y1="279.4" x2="311.3" y2="493.6" stroke="#333" stroke-width="1.1" />
<line x1="46.1" y1="489.6" x2="50.3" y2="489.6" stroke="#333" stroke-width="1.1" />
<text transform="translate(42.4,494.7) scale(1.0,1.08)" font-size="15.5" text-anchor="end" fill="#000" >-20</text>
<line x1="48.1" y1="463.33" x2="50.3" y2="463.33" stroke="#333" stroke-width="1.1" />
<line x1="46.1" y1="437.05" x2="50.3" y2="437.05" stroke="#333" stroke-width="1.1" />
<text transform="translate(42.4,442.15) scale(1.0,1.08)" font-size="15.5" text-anchor="end" fill="#000" >0</text>
<line x1="48.1" y1="410.77" x2="50.3" y2="410.77" stroke="#333" stroke-width="1.1" />
<line x1="46.1" y1="384.5" x2="50.3" y2="384.5" stroke="#333" stroke-width="1.1" />
<text transform="translate(42.4,389.6) scale(1.0,1.08)" font-size="15.5" text-anchor="end" fill="#000" >20</text>
<line x1="48.1" y1="358.23" x2="50.3" y2="358.23" stroke="#333" stroke-width="1.1" />
<line x1="46.1" y1="331.95" x2="50.3" y2="331.95" stroke="#333" stroke-width="1.1" />
<text transform="translate(42.4,337.05) scale(1.0,1.08)" font-size="15.5" text-anchor="end" fill="#000" >40</text>
<line x1="48.1" y1="305.67" x2="50.3" y2="305.67" stroke="#333" stroke-width="1.1" />
<line x1="46.1" y1="279.4" x2="50.3" y2="279.4" stroke="#333" stroke-width="1.1" />
<text transform="translate(42.4,284.5) scale(1.0,1.08)" font-size="15.5" text-anchor="end" fill="#000" >60</text>
<line x1="50.3" y1="489.6" x2="50.3" y2="493.6" stroke="#222" stroke-width="1.1" />
<text transform="translate(50.3,509.2) scale(1.0,1.08)" font-size="15.5" text-anchor="middle" fill="#000" >-20</text>
<line x1="82.92" y1="489.6" x2="82.92" y2="491.8" stroke="#222" stroke-width="1.1" />
<line x1="115.55" y1="489.6" x2="115.55" y2="493.6" stroke="#222" stroke-width="1.1" />
<text transform="translate(115.55,509.2) scale(1.0,1.08)" font-size="15.5" text-anchor="middle" fill="#000" >0</text>
<line x1="148.18" y1="489.6" x2="148.18" y2="491.8" stroke="#222" stroke-width="1.1" />
<line x1="180.8" y1="489.6" x2="180.8" y2="493.6" stroke="#222" stroke-width="1.1" />
<text transform="translate(180.8,509.2) scale(1.0,1.08)" font-size="15.5" text-anchor="middle" fill="#000" >20</text>
<line x1="213.43" y1="489.6" x2="213.43" y2="491.8" stroke="#222" stroke-width="1.1" />
<line x1="246.05" y1="489.6" x2="246.05" y2="493.6" stroke="#222" stroke-width="1.1" />
<text transform="translate(246.05,509.2) scale(1.0,1.08)" font-size="15.5" text-anchor="middle" fill="#000" >40</text>
<line x1="278.68" y1="489.6" x2="278.68" y2="491.8" stroke="#222" stroke-width="1.1" />
<line x1="311.3" y1="489.6" x2="311.3" y2="493.6" stroke="#222" stroke-width="1.1" />
<text transform="translate(311.3,509.2) scale(1.0,1.08)" font-size="15.5" text-anchor="middle" fill="#000" >60</text>
<text transform="translate(14.7,384.3) rotate(-90) scale(1.0,1.04)" font-size="15.5" text-anchor="middle" fill="#000">Prediction (μWcm<tspan dy="-5.6" font-size="10.5">-1</tspan><tspan dy="5.6" dx="0.8">K</tspan><tspan dy="-5.6" font-size="10.5">-2</tspan><tspan dy="5.6" dx="1.9">)</tspan></text>
<text transform="translate(180.7,536.1) scale(1.0,1.08)" font-size="15.5" text-anchor="middle" fill="#000" >DFT (μWcm<tspan dy="-5.6" font-size="10.5">-1</tspan><tspan dy="5.6" dx="0.8">K</tspan><tspan dy="-5.6" font-size="10.5">-2</tspan><tspan dy="5.6" dx="1.9">)</tspan></text>
<text transform="translate(-0.8,272.3) scale(1.0,1.0)" font-size="17.8" text-anchor="start" fill="#000" >(c)</text>
</g>
<g id="pd">
<line x1="414.3" y1="497" x2="675.5" y2="497" stroke="#222" stroke-width="1.1" />
<line x1="414.3" y1="286" x2="414.3" y2="501" stroke="#333" stroke-width="1.1" />
<polygon points="414.3,497.6 445.91,497.6 675.5,311.97 675.5,286.5 643.89,286.5 414.3,471.53" fill="#d3d3d3"/>
<line x1="414.3" y1="471.53" x2="643.89" y2="286.5" stroke="#b0b0b0" stroke-width="0.6" />
<line x1="445.91" y1="497" x2="675.5" y2="311.97" stroke="#f08a8a" stroke-width="0.9" />
<line x1="414.3" y1="497" x2="675.5" y2="286.5" stroke="#404040" stroke-width="0.8" />
<rect x="451" y="453.4" width="4.6" height="4.6" fill="#707070" stroke="none" stroke-width="0"/>
<rect x="452.7" y="441.5" width="4.6" height="4.6" fill="#707070" stroke="none" stroke-width="0"/>
<rect x="458.7" y="446.3" width="4.6" height="4.6" fill="#707070" stroke="none" stroke-width="0"/>
<rect x="469.1" y="429.4" width="4.6" height="4.6" fill="#707070" stroke="none" stroke-width="0"/>
<rect x="484" y="426.4" width="4.6" height="4.6" fill="#707070" stroke="none" stroke-width="0"/>
<rect x="523.1" y="390.5" width="4.6" height="4.6" fill="#707070" stroke="none" stroke-width="0"/>
<rect x="475.7" y="410.2" width="4.6" height="4.6" fill="#707070" stroke="none" stroke-width="0"/>
<rect x="493.3" y="410.7" width="4.6" height="4.6" fill="#707070" stroke="none" stroke-width="0"/>
<rect x="498.5" y="422.6" width="4.6" height="4.6" fill="#707070" stroke="none" stroke-width="0"/>
<rect x="510.9" y="421.3" width="4.6" height="4.6" fill="#707070" stroke="none" stroke-width="0"/>
<rect x="664.9" y="313.4" width="4.6" height="4.6" fill="#707070" stroke="none" stroke-width="0"/>
<circle cx="433.6" cy="466.7" r="2.65" fill="#f03c3c" stroke="none" stroke-width="0"/>
<circle cx="455.4" cy="460.5" r="2.65" fill="#f03c3c" stroke="none" stroke-width="0"/>
<circle cx="471.4" cy="459" r="2.65" fill="#f03c3c" stroke="none" stroke-width="0"/>
<circle cx="465.8" cy="440.2" r="2.65" fill="#f03c3c" stroke="none" stroke-width="0"/>
<circle cx="478.2" cy="429.9" r="2.65" fill="#f03c3c" stroke="none" stroke-width="0"/>
<circle cx="486.3" cy="445.2" r="2.65" fill="#f03c3c" stroke="none" stroke-width="0"/>
<circle cx="525.4" cy="407.4" r="2.65" fill="#f03c3c" stroke="none" stroke-width="0"/>
<circle cx="495.6" cy="414.2" r="2.65" fill="#f03c3c" stroke="none" stroke-width="0"/>
<circle cx="486.4" cy="419.7" r="2.65" fill="#f03c3c" stroke="none" stroke-width="0"/>
<circle cx="513.2" cy="414.6" r="2.65" fill="#f03c3c" stroke="none" stroke-width="0"/>
<circle cx="509.1" cy="436.7" r="2.65" fill="#f03c3c" stroke="none" stroke-width="0"/>
<circle cx="500.7" cy="430.1" r="2.65" fill="#f03c3c" stroke="none" stroke-width="0"/>
<circle cx="667.2" cy="329.1" r="2.65" fill="#f03c3c" stroke="none" stroke-width="0"/>
<path d="M433.6,466.13 L436.9,471.87 L430.3,471.87 Z" fill="#1c6ee8" stroke="none" stroke-width="0"/>
<path d="M453.3,456.73 L456.6,462.47 L450,462.47 Z" fill="#1c6ee8" stroke="none" stroke-width="0"/>
<path d="M471.4,459.73 L474.7,465.47 L468.1,465.47 Z" fill="#1c6ee8" stroke="none" stroke-width="0"/>
<path d="M460.7,427.83 L464,433.57 L457.4,433.57 Z" fill="#1c6ee8" stroke="none" stroke-width="0"/>
<path d="M466.1,423.63 L469.4,429.37 L462.8,429.37 Z" fill="#1c6ee8" stroke="none" stroke-width="0"/>
<path d="M478.2,432.63 L481.5,438.37 L474.9,438.37 Z" fill="#1c6ee8" stroke="none" stroke-width="0"/>
<path d="M486.3,433.23 L489.6,438.97 L483,438.97 Z" fill="#1c6ee8" stroke="none" stroke-width="0"/>
<path d="M525.4,401.53 L528.7,407.27 L522.1,407.27 Z" fill="#1c6ee8" stroke="none" stroke-width="0"/>
<path d="M495.6,415.23 L498.9,420.97 L492.3,420.97 Z" fill="#1c6ee8" stroke="none" stroke-width="0"/>
<path d="M486.4,421.33 L489.7,427.07 L483.1,427.07 Z" fill="#1c6ee8" stroke="none" stroke-width="0"/>
<path d="M513.2,415.83 L516.5,421.57 L509.9,421.57 Z" fill="#1c6ee8" stroke="none" stroke-width="0"/>
<path d="M509.1,422.03 L512.4,427.77 L505.8,427.77 Z" fill="#1c6ee8" stroke="none" stroke-width="0"/>
<path d="M667.2,338.43 L670.5,344.17 L663.9,344.17 Z" fill="#1c6ee8" stroke="none" stroke-width="0"/>
<path d="M433.6,458.57 L436.9,452.83 L430.3,452.83 Z" fill="#2aa05a" stroke="none" stroke-width="0"/>
<path d="M452.6,451.47 L455.9,445.73 L449.3,445.73 Z" fill="#2aa05a" stroke="none" stroke-width="0"/>
<path d="M455.7,453.57 L459,447.83 L452.4,447.83 Z" fill="#2aa05a" stroke="none" stroke-width="0"/>
<path d="M466.1,451.67 L469.4,445.93 L462.8,445.93 Z" fill="#2aa05a" stroke="none" stroke-width="0"/>
<path d="M471.4,456.47 L474.7,450.73 L468.1,450.73 Z" fill="#2aa05a" stroke="none" stroke-width="0"/>
<path d="M525.4,415.47 L528.7,409.73 L522.1,409.73 Z" fill="#2aa05a" stroke="none" stroke-width="0"/>
<path d="M486.7,407.77 L490,402.03 L483.4,402.03 Z" fill="#2aa05a" stroke="none" stroke-width="0"/>
<path d="M478,410.67 L481.3,404.93 L474.7,404.93 Z" fill="#2aa05a" stroke="none" stroke-width="0"/>
<path d="M486.4,419.67 L489.7,413.93 L483.1,413.93 Z" fill="#2aa05a" stroke="none" stroke-width="0"/>
<path d="M496.3,428.67 L499.6,422.93 L493,422.93 Z" fill="#2aa05a" stroke="none" stroke-width="0"/>
<path d="M509.1,415.87 L512.4,410.13 L505.8,410.13 Z" fill="#2aa05a" stroke="none" stroke-width="0"/>
<path d="M500.7,451.17 L504,445.43 L497.4,445.43 Z" fill="#2aa05a" stroke="none" stroke-width="0"/>
<path d="M513.3,444.07 L516.6,438.33 L510,438.33 Z" fill="#2aa05a" stroke="none" stroke-width="0"/>
<path d="M461.2,411.27 L464.5,405.53 L457.9,405.53 Z" fill="#2aa05a" stroke="none" stroke-width="0"/>
<path d="M667.2,338.17 L670.5,332.43 L663.9,332.43 Z" fill="#2aa05a" stroke="none" stroke-width="0"/>
<path d="M433.3,481.77 L436.93,485.4 L433.3,489.03 L429.67,485.4 Z" fill="#b07ae8" stroke="none" stroke-width="0"/>
<path d="M453.3,474.37 L456.93,478 L453.3,481.63 L449.67,478 Z" fill="#b07ae8" stroke="none" stroke-width="0"/>
<path d="M454.8,459.27 L458.43,462.9 L454.8,466.53 L451.17,462.9 Z" fill="#b07ae8" stroke="none" stroke-width="0"/>
<path d="M466.1,449.07 L469.73,452.7 L466.1,456.33 L462.47,452.7 Z" fill="#b07ae8" stroke="none" stroke-width="0"/>
<path d="M471.4,437.17 L475.03,440.8 L471.4,444.43 L467.77,440.8 Z" fill="#b07ae8" stroke="none" stroke-width="0"/>
<path d="M461.3,429.67 L464.93,433.3 L461.3,436.93 L457.67,433.3 Z" fill="#b07ae8" stroke="none" stroke-width="0"/>
<path d="M486.3,435.37 L489.93,439 L486.3,442.63 L482.67,439 Z" fill="#b07ae8" stroke="none" stroke-width="0"/>
<path d="M525.4,385.37 L529.03,389 L525.4,392.63 L521.77,389 Z" fill="#b07ae8" stroke="none" stroke-width="0"/>
<path d="M486.7,397.17 L490.33,400.8 L486.7,404.43 L483.07,400.8 Z" fill="#b07ae8" stroke="none" stroke-width="0"/>
<path d="M478,407.37 L481.63,411 L478,414.63 L474.37,411 Z" fill="#b07ae8" stroke="none" stroke-width="0"/>
<path d="M500.8,425.37 L504.43,429 L500.8,432.63 L497.17,429 Z" fill="#b07ae8" stroke="none" stroke-width="0"/>
<path d="M509.1,425.37 L512.73,429 L509.1,432.63 L505.47,429 Z" fill="#b07ae8" stroke="none" stroke-width="0"/>
<path d="M513.2,431.07 L516.83,434.7 L513.2,438.33 L509.57,434.7 Z" fill="#b07ae8" stroke="none" stroke-width="0"/>
<path d="M496.3,435.57 L499.93,439.2 L496.3,442.83 L492.67,439.2 Z" fill="#b07ae8" stroke="none" stroke-width="0"/>
<path d="M667.2,334.97 L670.83,338.6 L667.2,342.23 L663.57,338.6 Z" fill="#b07ae8" stroke="none" stroke-width="0"/>
<line x1="413.8" y1="286.5" x2="675.5" y2="286.5" stroke="#333" stroke-width="1.1" />
<line x1="675.5" y1="286.5" x2="675.5" y2="501" stroke="#333" stroke-width="1.1" />
<rect x="586.4" y="389.5" width="78.7" height="99.3" fill="#fff" stroke="#c4c4c4" stroke-width="1"/>
<rect x="604.1" y="398.6" width="4.6" height="4.6" fill="#707070" stroke="none" stroke-width="0"/>
<text transform="translate(629.3,406.4) scale(1.0,1.08)" font-size="15.5" text-anchor="start" fill="#000" >SVR</text>
<circle cx="606.4" cy="420.1" r="2.65" fill="#f03c3c" stroke="none" stroke-width="0"/>
<text transform="translate(629.3,425.6) scale(1.0,1.08)" font-size="15.5" text-anchor="start" fill="#000" >GBR</text>
<path d="M606.4,436.43 L609.7,442.17 L603.1,442.17 Z" fill="#1c6ee8" stroke="none" stroke-width="0"/>
<text transform="translate(629.3,444.8) scale(1.0,1.08)" font-size="15.5" text-anchor="start" fill="#000" >RFR</text>
<path d="M606.4,461.37 L609.7,455.63 L603.1,455.63 Z" fill="#2aa05a" stroke="none" stroke-width="0"/>
<text transform="translate(629.3,464) scale(1.0,1.08)" font-size="15.5" text-anchor="start" fill="#000" >ABR</text>
<path d="M606.4,474.07 L610.03,477.7 L606.4,481.33 L602.77,477.7 Z" fill="#b07ae8" stroke="none" stroke-width="0"/>
<text transform="translate(629.3,483.2) scale(1.0,1.08)" font-size="15.5" text-anchor="start" fill="#000" >KRR</text>
<line x1="410.1" y1="497" x2="414.3" y2="497" stroke="#333" stroke-width="1.1" />
<text transform="translate(406.2,502.1) scale(1.0,1.08)" font-size="15.5" text-anchor="end" fill="#000" >10</text>
<line x1="412.1" y1="475.95" x2="414.3" y2="475.95" stroke="#333" stroke-width="1.1" />
<line x1="410.1" y1="454.9" x2="414.3" y2="454.9" stroke="#333" stroke-width="1.1" />
<text transform="translate(406.2,460) scale(1.0,1.08)" font-size="15.5" text-anchor="end" fill="#000" >20</text>
<line x1="412.1" y1="433.85" x2="414.3" y2="433.85" stroke="#333" stroke-width="1.1" />
<line x1="410.1" y1="412.8" x2="414.3" y2="412.8" stroke="#333" stroke-width="1.1" />
<text transform="translate(406.2,417.9) scale(1.0,1.08)" font-size="15.5" text-anchor="end" fill="#000" >30</text>
<line x1="412.1" y1="391.75" x2="414.3" y2="391.75" stroke="#333" stroke-width="1.1" />
<line x1="410.1" y1="370.7" x2="414.3" y2="370.7" stroke="#333" stroke-width="1.1" />
<text transform="translate(406.2,375.8) scale(1.0,1.08)" font-size="15.5" text-anchor="end" fill="#000" >40</text>
<line x1="412.1" y1="349.65" x2="414.3" y2="349.65" stroke="#333" stroke-width="1.1" />
<line x1="410.1" y1="328.6" x2="414.3" y2="328.6" stroke="#333" stroke-width="1.1" />
<text transform="translate(406.2,333.7) scale(1.0,1.08)" font-size="15.5" text-anchor="end" fill="#000" >50</text>
<line x1="412.1" y1="307.55" x2="414.3" y2="307.55" stroke="#333" stroke-width="1.1" />
<line x1="410.1" y1="286.5" x2="414.3" y2="286.5" stroke="#333" stroke-width="1.1" />
<text transform="translate(406.2,291.6) scale(1.0,1.08)" font-size="15.5" text-anchor="end" fill="#000" >60</text>
<line x1="414.3" y1="497" x2="414.3" y2="501" stroke="#222" stroke-width="1.1" />
<text transform="translate(414.3,517) scale(1.0,1.08)" font-size="15.5" text-anchor="middle" fill="#000" >10</text>
<line x1="440.42" y1="497" x2="440.42" y2="499.2" stroke="#222" stroke-width="1.1" />
<line x1="466.54" y1="497" x2="466.54" y2="501" stroke="#222" stroke-width="1.1" />
<text transform="translate(466.54,517) scale(1.0,1.08)" font-size="15.5" text-anchor="middle" fill="#000" >20</text>
<line x1="492.66" y1="497" x2="492.66" y2="499.2" stroke="#222" stroke-width="1.1" />
<line x1="518.78" y1="497" x2="518.78" y2="501" stroke="#222" stroke-width="1.1" />
<text transform="translate(518.78,517) scale(1.0,1.08)" font-size="15.5" text-anchor="middle" fill="#000" >30</text>
<line x1="544.9" y1="497" x2="544.9" y2="499.2" stroke="#222" stroke-width="1.1" />
<line x1="571.02" y1="497" x2="571.02" y2="501" stroke="#222" stroke-width="1.1" />
<text transform="translate(571.02,517) scale(1.0,1.08)" font-size="15.5" text-anchor="middle" fill="#000" >40</text>
<line x1="597.14" y1="497" x2="597.14" y2="499.2" stroke="#222" stroke-width="1.1" />
<line x1="623.26" y1="497" x2="623.26" y2="501" stroke="#222" stroke-width="1.1" />
<text transform="translate(623.26,517) scale(1.0,1.08)" font-size="15.5" text-anchor="middle" fill="#000" >50</text>
<line x1="649.38" y1="497" x2="649.38" y2="499.2" stroke="#222" stroke-width="1.1" />
<line x1="675.5" y1="497" x2="675.5" y2="501" stroke="#222" stroke-width="1.1" />
<text transform="translate(675.5,517) scale(1.0,1.08)" font-size="15.5" text-anchor="middle" fill="#000" >60</text>
<text transform="translate(384.1,391.5) rotate(-90) scale(1.0,1.04)" font-size="15.5" text-anchor="middle" fill="#000">Prediction (μWcm<tspan dy="-5.6" font-size="10.5">-1</tspan><tspan dy="5.6" dx="0.8">K</tspan><tspan dy="-5.6" font-size="10.5">-2</tspan><tspan dy="5.6" dx="1.9">)</tspan></text>
<text transform="translate(544.7,542.7) scale(1.0,1.08)" font-size="15.5" text-anchor="middle" fill="#000" >DFT (μWcm<tspan dy="-5.6" font-size="10.5">-1</tspan><tspan dy="5.6" dx="0.8">K</tspan><tspan dy="-5.6" font-size="10.5">-2</tspan><tspan dy="5.6" dx="1.9">)</tspan></text>
<text transform="translate(359.8,279.3) scale(1.0,1.0)" font-size="17.8" text-anchor="start" fill="#000" >(d)</text>
</g>
</svg>
</body></html>
